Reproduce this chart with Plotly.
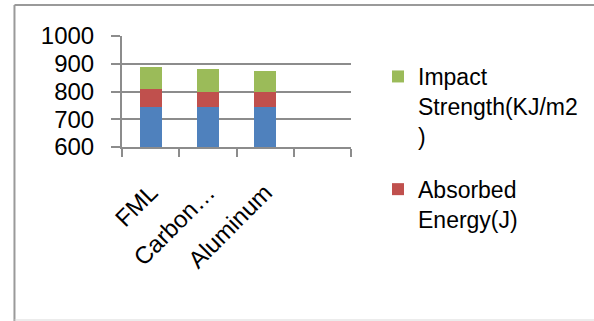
import plotly.graph_objects as go

# Materials on the category axis (the fourth slot is left empty)
materials = ["FML", "Carbon…", "Aluminum", " "]

# Stacked series, bottom to top
base_values = [745, 745, 745, None]
absorbed_energy = [63, 55, 55, None]
impact_strength = [82, 82, 74, None]

y_ticks = [600, 700, 800, 900, 1000]

BLUE = "#4F81BD"
RED = "#C0504D"
GREEN = "#9BBB59"
GRID = "#8C8C8C"
FONT = "Liberation Sans"

W, H = 594, 321
L, R, T, B = 122, 242, 36, 174
pw, ph = W - L - R, H - T - B


def px_x(x):
    return (x - L) / pw


def px_y(y):
    return (H - B - y) / ph


fig = go.Figure()
fig.add_trace(go.Bar(x=materials, y=base_values, name="Tensile Strength(MPa)",
                     marker=dict(color=BLUE, line=dict(width=0)),
                     showlegend=False, legendgroup="a", legendrank=3))
fig.add_trace(go.Bar(x=materials, y=absorbed_energy, name="Absorbed<br>Energy(J)",
                     marker=dict(color=RED, line=dict(width=0)),
                     legendgroup="b", legendrank=2))
fig.add_trace(go.Bar(x=materials, y=impact_strength, name="Impact<br>Strength(KJ/m2<br>)",
                     marker=dict(color=GREEN, line=dict(width=0)),
                     legendgroup="c", legendrank=1))

fig.update_layout(
    width=W, height=H,
    margin=dict(l=L, r=R, t=T, b=B),
    paper_bgcolor="white", plot_bgcolor="white",
    barmode="stack", bargap=0.62,
    font=dict(family=FONT, color="#000000"),
    legend=dict(
        x=px_x(378), y=px_y(55), xanchor="left", yanchor="top",
        traceorder="grouped", tracegroupgap=20,
        valign="top", font=dict(size=23, family=FONT),
        bgcolor="rgba(0,0,0,0)", maxheight=300,
    ),
    xaxis=dict(
        categoryorder="array", categoryarray=materials,
        range=[-0.5, 3.5],
        showline=True, linecolor=GRID, linewidth=2,
        ticks="outside", tickson="boundaries", ticklen=8,
        tickcolor=GRID, tickwidth=2,
        tickangle=-45, tickfont=dict(size=24, family=FONT),
        ticklabelstandoff=20,
        showgrid=False,
    ),
    yaxis=dict(
        range=[600, 1000], tickvals=y_ticks,
        showline=True, linecolor=GRID, linewidth=2,
        showgrid=True, gridcolor=GRID, gridwidth=2,
        ticks="outside", ticklen=9, tickcolor=GRID, tickwidth=2,
        tickfont=dict(size=24, family=FONT),
        ticklabelstandoff=12,
        zeroline=False,
    ),
    shapes=[
        # chart frame: top, left and bottom edges
        dict(type="line", xref="paper", yref="paper",
             x0=px_x(14), x1=px_x(600), y0=px_y(5), y1=px_y(5),
             line=dict(color="#9A9A9A", width=2)),
        dict(type="line", xref="paper", yref="paper",
             x0=px_x(14), x1=px_x(14), y0=px_y(5), y1=px_y(330),
             line=dict(color="#9A9A9A", width=2)),
        dict(type="line", xref="paper", yref="paper",
             x0=px_x(14), x1=px_x(600), y0=px_y(320), y1=px_y(320),
             line=dict(color="#D9D9D9", width=1)),
    ],
)

fig.write_html("out.html")
